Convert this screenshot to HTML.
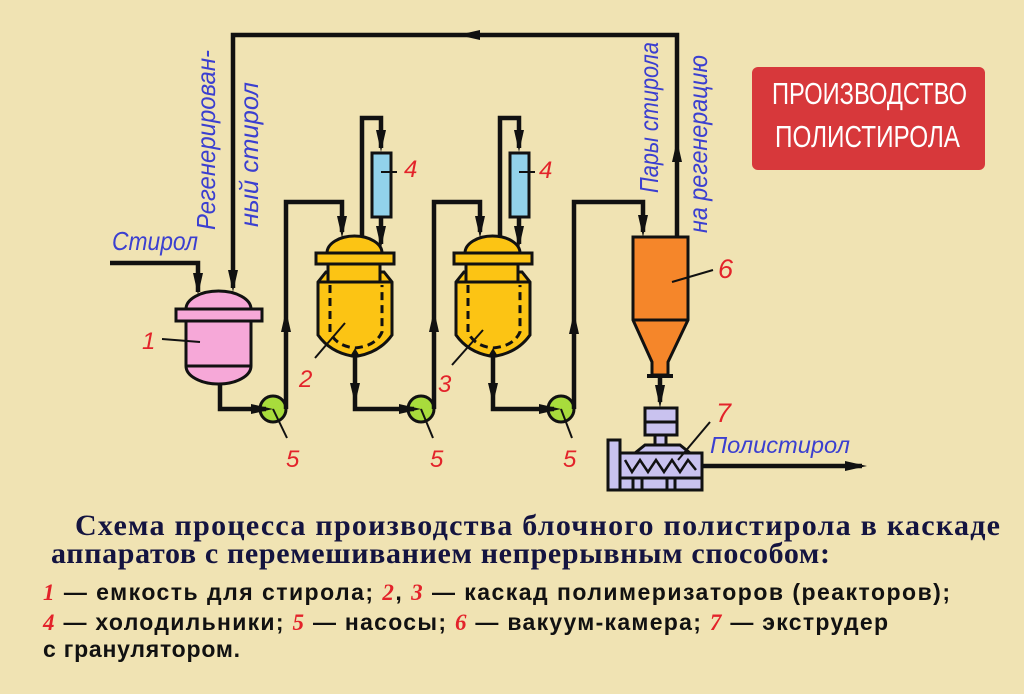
<!DOCTYPE html>
<html><head><meta charset="utf-8">
<style>
html,body{margin:0;padding:0;background:#f0e3b3;}
svg{display:block;}
</style></head>
<body>
<svg width="1024" height="694" viewBox="0 0 1024 694" xmlns="http://www.w3.org/2000/svg">
<rect width="1024" height="694" fill="#f0e3b3"/>

<!-- title box -->
<rect x="752" y="67" width="233" height="103" rx="6" fill="#d7383b"/>
<text x="772" y="104" textLength="195" lengthAdjust="spacingAndGlyphs" font-family="'Liberation Sans Narrow','Liberation Sans',sans-serif" font-size="31" fill="#fff">ПРОИЗВОДСТВО</text>
<text x="775" y="147" textLength="185" lengthAdjust="spacingAndGlyphs" font-family="'Liberation Sans Narrow','Liberation Sans',sans-serif" font-size="31" fill="#fff">ПОЛИСТИРОЛА</text>

<!-- pumps -->
<g fill="#a8dc3c" stroke="#111" stroke-width="3">
<circle cx="273" cy="409" r="13"/>
<circle cx="421" cy="409" r="13"/>
<circle cx="561" cy="409" r="13"/>
</g>

<!-- pipes -->
<g fill="none" stroke="#111" stroke-width="4.5" stroke-linejoin="miter">
<path d="M110,263 H198 V292"/>
<path d="M677,237 V35 H233 V288"/>
<path d="M220,384 V409 H266"/>
<path d="M286,409 V202 H342 V232"/>
<path d="M362,236 V118 H381 V148"/>
<path d="M381,217 V244"/>
<path d="M355,352 V409 H414"/>
<path d="M434,409 V202 H480 V232"/>
<path d="M500,236 V118 H519 V148"/>
<path d="M519,217 V244"/>
<path d="M493,352 V409 H554"/>
<path d="M574,409 V202 H643 V232"/>
<path d="M660,376 V402"/>
<path d="M702,466 H862"/>
</g>

<!-- arrowheads -->
<g fill="#111">
<polygon points="193,273 203,273 198,295"/>
<polygon points="228,270 238,270 233,292"/>
<polygon points="480,30 480,40 458,35"/>
<polygon points="672,162 682,162 677,140"/>
<polygon points="251,404 251,414 273,409"/>
<polygon points="281,332 291,332 286,310"/>
<polygon points="337,216 347,216 342,238"/>
<polygon points="376,130 386,130 381,152"/>
<polygon points="376,226 386,226 381,248"/>
<polygon points="350,383 360,383 355,404"/>
<polygon points="399,404 399,414 421,409"/>
<polygon points="429,332 439,332 434,310"/>
<polygon points="475,216 485,216 480,238"/>
<polygon points="514,130 524,130 519,152"/>
<polygon points="514,226 524,226 519,248"/>
<polygon points="488,383 498,383 493,404"/>
<polygon points="539,404 539,414 561,409"/>
<polygon points="569,334 579,334 574,312"/>
<polygon points="638,215 648,215 643,237"/>
<polygon points="655,385 665,385 660,408"/>
<polygon points="845,461 845,471 867,466"/>
</g>

<!-- vessel 1 -->
<g stroke="#111" stroke-width="3" fill="#f6a8d8">
<path d="M186,309 A32.5,18 0 0 1 251,309 Z"/>
<path d="M186,321 V366 A32.5,18 0 0 0 251,366 V321 Z"/>
<rect x="176" y="309" width="86" height="12"/>
<line x1="186" y1="366" x2="251" y2="366"/>
</g>

<!-- reactor 2 & 3 -->
<g stroke="#111" stroke-width="3" fill="#fcc414">
<path d="M327,253 A27.5,17 0 0 1 382,253 Z"/>
<path d="M326,272 H384 L392,282 V335 Q380,352 358,356 L355,351 L352,356 Q330,352 318,335 V282 Z"/>
<rect x="328" y="264" width="52" height="18"/>
<line x1="318" y1="282" x2="392" y2="282"/>
<rect x="316" y="253" width="78" height="11"/>
<path d="M330,285 V332 Q336,346 355,348 Q376,346 382,332 V285" fill="none" stroke-dasharray="8,5"/>
</g>
<g transform="translate(138,0)" stroke="#111" stroke-width="3" fill="#fcc414">
<path d="M327,253 A27.5,17 0 0 1 382,253 Z"/>
<path d="M326,272 H384 L392,282 V335 Q380,352 358,356 L355,351 L352,356 Q330,352 318,335 V282 Z"/>
<rect x="328" y="264" width="52" height="18"/>
<line x1="318" y1="282" x2="392" y2="282"/>
<rect x="316" y="253" width="78" height="11"/>
<path d="M330,285 V332 Q336,346 355,348 Q376,346 382,332 V285" fill="none" stroke-dasharray="8,5"/>
</g>

<!-- condensers -->
<g stroke="#111" stroke-width="3" fill="#92d2ea">
<rect x="372" y="153" width="19" height="64"/>
<rect x="510" y="153" width="19" height="64"/>
</g>

<!-- vacuum chamber -->
<g stroke="#111" stroke-width="3" fill="#f5862a">
<path d="M633,237 H688 V320 L668,362 V375 H652 V362 L633,320 Z"/>
<line x1="633" y1="320" x2="688" y2="320"/>
</g>
<line x1="647" y1="376" x2="673" y2="376" stroke="#111" stroke-width="4"/>

<!-- extruder -->
<g stroke="#111" stroke-width="3" fill="#c9c2ef">
<rect x="645" y="408" width="32" height="27"/>
<line x1="645" y1="422" x2="677" y2="422"/>
<rect x="655" y="435" width="11" height="10"/>
<polygon points="635,453 645,445 680,445 690,453"/>
<rect x="620" y="478" width="82" height="12"/>
<line x1="633" y1="478" x2="633" y2="490"/>
<line x1="642" y1="478" x2="642" y2="490"/>
<line x1="667" y1="478" x2="667" y2="490"/>
<line x1="675" y1="478" x2="675" y2="490"/>
<rect x="620" y="453" width="82" height="25"/>
<rect x="608" y="440" width="12" height="50"/>
<polyline points="625,460 632,472 640,460 648,472 656,460 664,472 672,460 680,472 688,460 696,470" fill="none" stroke-width="2.5"/>
</g>

<!-- label leader lines -->
<g stroke="#111" stroke-width="2">
<line x1="162" y1="339" x2="200" y2="342"/>
<line x1="345" y1="323" x2="315" y2="358"/>
<line x1="483" y1="330" x2="452" y2="365"/>
<line x1="273" y1="409" x2="287" y2="438"/>
<line x1="421" y1="409" x2="433" y2="438"/>
<line x1="561" y1="409" x2="572" y2="438"/>
<line x1="381" y1="172" x2="397" y2="172"/>
<line x1="519" y1="172" x2="535" y2="172"/>
<line x1="672" y1="282" x2="713" y2="270"/>
<line x1="710" y1="422" x2="678" y2="460"/>
</g>

<!-- red numerals -->
<g font-family="'Liberation Sans',sans-serif" font-style="italic" font-size="24" fill="#e3232a">
<text x="142" y="349">1</text>
<text x="299" y="387">2</text>
<text x="438" y="392">3</text>
<text x="404" y="177">4</text>
<text x="539" y="178">4</text>
<text x="286" y="467">5</text>
<text x="430" y="467">5</text>
<text x="563" y="467">5</text>
<text x="718" y="278" font-size="27">6</text>
<text x="716" y="422" font-size="27">7</text>
</g>

<!-- blue labels -->
<g font-family="'Liberation Sans',sans-serif" font-style="italic" font-size="26" fill="#3b3fd0">
<text x="112" y="250" textLength="86" lengthAdjust="spacingAndGlyphs">Стирол</text>
<text transform="translate(215,230) rotate(-90)" textLength="180" lengthAdjust="spacingAndGlyphs">Регенерирован-</text>
<text transform="translate(258,227) rotate(-90)" textLength="145" lengthAdjust="spacingAndGlyphs">ный стирол</text>
<text transform="translate(658,193) rotate(-90)" textLength="151" lengthAdjust="spacingAndGlyphs">Пары стирола</text>
<text transform="translate(707,233) rotate(-90)" textLength="178" lengthAdjust="spacingAndGlyphs">на регенерацию</text>
<text x="710" y="453" font-size="23" textLength="140" lengthAdjust="spacingAndGlyphs">Полистирол</text>
</g>

<!-- caption -->
<g font-family="'Liberation Serif',serif" font-weight="bold" font-size="30" fill="#141440">
<text x="75" y="535" textLength="925" lengthAdjust="spacing">Схема процесса производства блочного полистирола в каскаде</text>
<text x="51" y="563" textLength="779" lengthAdjust="spacing">аппаратов с перемешиванием непрерывным способом:</text>
</g>
<g font-family="'Liberation Sans',sans-serif" font-weight="bold" font-size="23" fill="#111">
<text x="43" y="600" textLength="907" lengthAdjust="spacing"><tspan fill="#e3232a" font-style="italic" font-family="'Liberation Serif',serif">1</tspan> — емкость для стирола; <tspan fill="#e3232a" font-style="italic" font-family="'Liberation Serif',serif">2</tspan>, <tspan fill="#e3232a" font-style="italic" font-family="'Liberation Serif',serif">3</tspan> — каскад полимеризаторов (реакторов);</text>
<text x="43" y="630" textLength="845" lengthAdjust="spacing"><tspan fill="#e3232a" font-style="italic" font-family="'Liberation Serif',serif">4</tspan> — холодильники;  <tspan fill="#e3232a" font-style="italic" font-family="'Liberation Serif',serif">5</tspan> — насосы; <tspan fill="#e3232a" font-style="italic" font-family="'Liberation Serif',serif">6</tspan> — вакуум-камера;  <tspan fill="#e3232a" font-style="italic" font-family="'Liberation Serif',serif">7</tspan> — экструдер</text>
<text x="43" y="657" textLength="197" lengthAdjust="spacing">с гранулятором.</text>
</g>
</svg>
</body></html>
